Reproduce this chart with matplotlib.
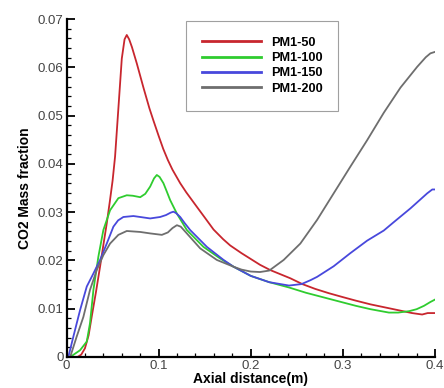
import matplotlib
matplotlib.use("Agg")
import matplotlib.pyplot as plt
from matplotlib.ticker import MultipleLocator

plt.rcParams['font.family'] = ['Liberation Sans', 'DejaVu Sans']

# PM1-50 (red)
x_50 = [0.0, 0.012, 0.016, 0.02, 0.024, 0.0274, 0.032, 0.0364, 0.04, 0.0437, 0.047,
        0.05, 0.0527, 0.0563, 0.06, 0.063, 0.0654, 0.068, 0.071, 0.0763, 0.0835, 0.09, 0.0943,
        0.1, 0.105, 0.11, 0.115, 0.1234, 0.13, 0.1415, 0.15, 0.1596, 0.17, 0.1777, 0.19,
        0.2, 0.21, 0.2212, 0.243, 0.256, 0.27, 0.285, 0.3, 0.3135, 0.33, 0.35, 0.365, 0.375,
        0.386, 0.392, 0.4]
y_50 = [0.0, 0.0, 0.0005, 0.0018, 0.0045, 0.0084, 0.0135, 0.0187, 0.0232, 0.0277, 0.0322,
        0.0365, 0.0415, 0.0515, 0.0618, 0.0658, 0.0667, 0.0658, 0.0642, 0.0608, 0.0558, 0.0515,
        0.049, 0.0458, 0.0431, 0.0408, 0.0388, 0.036, 0.0341, 0.0311, 0.0289, 0.0264, 0.0244,
        0.0231, 0.0215, 0.0203, 0.0191, 0.018, 0.0163, 0.0151, 0.0141, 0.0132, 0.0124, 0.0117,
        0.0109, 0.0101, 0.0095, 0.0091, 0.0088, 0.0091, 0.0091]

# PM1-100 (green)
x_100 = [0.0, 0.004, 0.0147, 0.022, 0.0255, 0.0292, 0.0346, 0.04, 0.0473, 0.0563, 0.0654,
         0.072, 0.08, 0.0855, 0.0908, 0.095, 0.098, 0.101, 0.1052, 0.109, 0.1125, 0.1198,
         0.1306, 0.1487, 0.1668, 0.1813, 0.2, 0.22, 0.2415, 0.26, 0.28, 0.3, 0.314, 0.33,
         0.35, 0.36, 0.372, 0.38, 0.388, 0.395, 0.4]
y_100 = [0.0, 0.0, 0.0014, 0.0032, 0.007, 0.0139, 0.0208, 0.0263, 0.0304, 0.0329, 0.0335,
         0.0334, 0.0331, 0.0338, 0.0353, 0.037, 0.0377, 0.0373, 0.036, 0.0342, 0.0325, 0.0297,
         0.0263, 0.0228, 0.0204, 0.0187, 0.0168, 0.0155, 0.0144, 0.0133, 0.0123, 0.0113, 0.0106,
         0.0099, 0.0092, 0.0092, 0.0095, 0.0099, 0.0106, 0.0114, 0.0119]

# PM1-150 (blue)
x_150 = [0.0, 0.002, 0.0074, 0.0147, 0.022, 0.0292, 0.0364, 0.0437, 0.0509, 0.056, 0.0617,
         0.0726, 0.08, 0.0908, 0.1016, 0.108, 0.113, 0.116, 0.119, 0.1234, 0.128, 0.1342,
         0.1524, 0.1705, 0.1813, 0.2, 0.22, 0.2415, 0.255, 0.2647, 0.272, 0.29, 0.308,
         0.3263, 0.3444, 0.355, 0.3734, 0.3915, 0.397, 0.4]
y_150 = [0.0, 0.0, 0.0042, 0.0097, 0.0146, 0.0173, 0.0201, 0.0235, 0.027, 0.0283, 0.029,
         0.0292, 0.029, 0.0287, 0.029, 0.0294, 0.0299, 0.0301, 0.0298, 0.029, 0.0278, 0.0263,
         0.0228, 0.0201, 0.0187, 0.0168, 0.0155, 0.0148, 0.0151, 0.0159, 0.0166, 0.0188, 0.0215,
         0.0241, 0.0262, 0.0279, 0.0308, 0.0339, 0.0347, 0.0347]

# PM1-200 (gray)
x_200 = [0.0, 0.004, 0.011, 0.0183, 0.0255, 0.0328, 0.04, 0.0473, 0.0563, 0.0654,
         0.08, 0.0908, 0.1035, 0.11, 0.115, 0.1198, 0.124, 0.1306, 0.1451, 0.1632, 0.1813,
         0.19, 0.2, 0.21, 0.22, 0.2357, 0.2538, 0.272, 0.29, 0.308, 0.3263, 0.3444,
         0.3625, 0.3806, 0.39, 0.395, 0.4]
y_200 = [0.0, 0.0, 0.0042, 0.0083, 0.0139, 0.018, 0.0211, 0.0235, 0.0253, 0.0261,
         0.0259, 0.0256, 0.0253, 0.0258, 0.0267, 0.0273, 0.027, 0.0256, 0.0225, 0.0201, 0.0187,
         0.0181, 0.0177, 0.0176, 0.0179, 0.0201, 0.0235, 0.0284, 0.0339, 0.0394, 0.0449, 0.0506,
         0.0558, 0.0601, 0.0621, 0.0629, 0.0632]

labels = ['PM1-50', 'PM1-100', 'PM1-150', 'PM1-200']
colors = ['#c8262e', '#2fcc2f', '#4848dc', '#6e6e6e']
series = [(x_50, y_50), (x_100, y_100), (x_150, y_150), (x_200, y_200)]

fig = plt.figure(figsize=(4.44, 3.88), dpi=100)
ax = fig.add_axes([0.1498, 0.0799, 0.83, 0.871])

for (xs, ys), lab, col in zip(series, labels, colors):
    ax.plot(xs, ys, color=col, lw=1.3, label=lab)

ax.set_xlim(0, 0.4)
ax.set_ylim(0, 0.07)

ax.spines['top'].set_visible(False)
ax.spines['right'].set_visible(False)
ax.spines['left'].set_linewidth(1.6)
ax.spines['bottom'].set_linewidth(1.6)

ax.xaxis.set_major_locator(MultipleLocator(0.1))
ax.xaxis.set_minor_locator(MultipleLocator(0.02))
ax.yaxis.set_major_locator(MultipleLocator(0.01))
ax.yaxis.set_minor_locator(MultipleLocator(0.002))

def fmt(v, pos):
    return '0' if abs(v) < 1e-12 else ('%g' % round(v, 4))

ax.xaxis.set_major_formatter(plt.FuncFormatter(fmt))
ax.yaxis.set_major_formatter(plt.FuncFormatter(fmt))

ax.tick_params(which='major', direction='in', length=5.5, width=1.3,
               labelsize=9.5, labelcolor='#444444', pad=2)
ax.tick_params(which='minor', direction='in', length=2.8, width=0.9)

ax.set_xlabel('Axial distance(m)', fontsize=10, fontweight='bold', labelpad=0)
ax.set_ylabel('CO2 Mass fraction', fontsize=10, fontweight='bold', labelpad=4)

leg = ax.legend(loc='upper left', bbox_to_anchor=(186 / 444, (388 - 20.7) / 388),
                bbox_transform=fig.transFigure, borderaxespad=0,
                prop={'weight': 'bold', 'size': 9.2}, handlelength=4.6,
                handletextpad=0.78, labelspacing=0.26, borderpad=1.25,
                fancybox=False, frameon=True)
leg.get_frame().set_edgecolor('#888888')
leg.get_frame().set_linewidth(0.8)
for line in leg.get_lines():
    line.set_linewidth(2.0)

fig.savefig('out.png', dpi=100)
